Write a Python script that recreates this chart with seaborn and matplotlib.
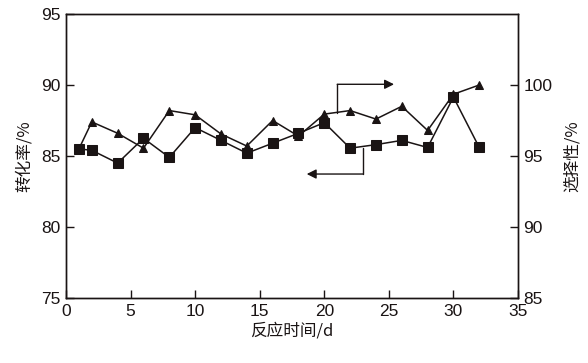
import pandas as pd
import seaborn as sns
import matplotlib.pyplot as plt

# reaction time (d)
days = [1, 2, 4, 6, 8, 10, 12, 14, 16, 18, 20, 22, 24, 26, 28, 30, 32]
# conversion (%) - left axis, squares
conversion = [85.5, 85.4, 84.5, 86.25, 84.9, 87.0, 86.1, 85.2, 85.9, 86.6,
              87.35, 85.55, 85.8, 86.1, 85.6, 89.15, 85.6]
# selectivity (%) - right axis, triangles
selectivity = [95.5, 97.4, 96.6, 95.55, 98.2, 97.9, 96.55, 95.7, 97.5, 96.4,
               97.95, 98.2, 97.6, 98.5, 96.8, 99.35, 100.0]

left_ticks = [75, 80, 85, 90, 95]
right_ticks = [85, 90, 95, 100]
x_ticks = [0, 5, 10, 15, 20, 25, 30, 35]

df = pd.DataFrame({"day": days, "conv": conversion, "sel": selectivity})

sns.set_style("ticks")
plt.rcParams["font.family"] = ["Liberation Sans", "Noto Sans CJK SC", "DejaVu Sans"]
cjk = ["Noto Sans CJK SC", "DejaVu Sans"]

fig = plt.figure(figsize=(5.88, 3.63), dpi=100)
ax = fig.add_axes([66 / 588, 65 / 363, 452 / 588, 284 / 363])
ax2 = ax.twinx()

sns.lineplot(data=df, x="day", y="sel", ax=ax2, color="#1a1414", marker="^",
             markersize=6, markeredgecolor="#1a1414", linewidth=1.1)
sns.lineplot(data=df, x="day", y="conv", ax=ax, color="#1a1414", marker="s",
             markersize=6.8, markeredgecolor="#1a1414", linewidth=1.1)
ax.set_zorder(ax2.get_zorder() + 1)
ax.patch.set_visible(False)

ax.set_xlim(0, 35)
ax.set_ylim(75, 95)
ax2.set_ylim(85, 105)
ax.set_xticks(x_ticks)
ax.set_yticks(left_ticks)
ax2.set_yticks(right_ticks)

for a in (ax, ax2):
    a.tick_params(direction="in", length=6, width=1, labelsize=12.5,
                  colors="#1a1414", pad=4)
    for s in a.spines.values():
        s.set_linewidth(1)
        s.set_color("#1a1414")

ax.set_xlabel("反应时间/d", family=cjk, fontsize=12, color="#1a1414", labelpad=3)
ax.set_ylabel("转化率/%", family=cjk, fontsize=12, color="#1a1414", labelpad=6)
ax2.set_ylabel("选择性/%", family=cjk, fontsize=12, color="#1a1414", labelpad=8)

# arrows indicating which axis each series belongs to
ax.plot([21.0, 21.0], [88.05, 90.05], color="#1a1414", lw=1)
ax.annotate("", xy=(25.4, 90.05), xytext=(21.0, 90.05),
            arrowprops=dict(arrowstyle="-|>", color="#1a1414", lw=1,
                            mutation_scale=14, shrinkA=0, shrinkB=0))
ax.plot([23.0, 23.0], [85.56, 83.73], color="#1a1414", lw=1)
ax.annotate("", xy=(18.64, 83.73), xytext=(23.0, 83.73),
            arrowprops=dict(arrowstyle="-|>", color="#1a1414", lw=1,
                            mutation_scale=14, shrinkA=0, shrinkB=0))

fig.savefig("out.png", dpi=100)
